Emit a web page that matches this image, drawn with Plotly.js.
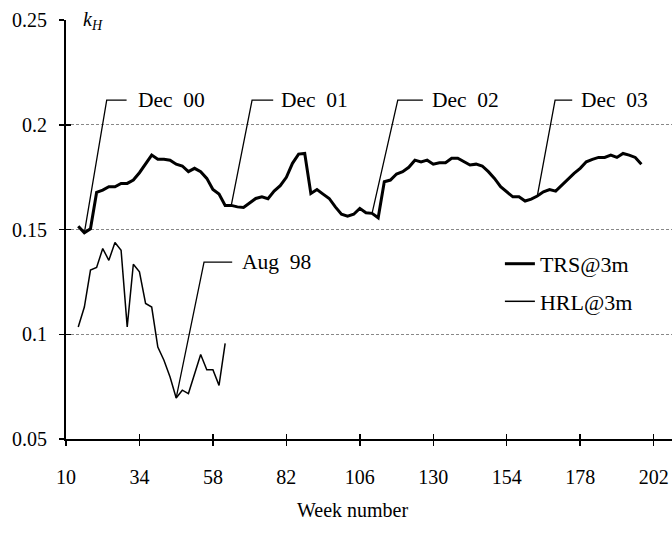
<!DOCTYPE html>
<html>
<head>
<meta charset="utf-8">
<script src="https://cdn.plot.ly/plotly-3.0.1.min.js"></script>
<style>html,body{margin:0;padding:0;background:#fff}#chart{width:672px;height:544px}</style>
</head>
<body>
<div id="chart"></div>
<script>
// ---- data ----
const trsName = 'TRS@3m';
const hrlName = 'HRL@3m';
const trsWeeks = [14,16,18,20,22,24,26,28,30,32,34,36,38,40,42,44,46,48,50,52,54,56,58,60,62,64,66,68,70,72,74,76,78,80,82,84,86,88,90,92,94,96,98,100,102,104,106,108,110,112,114,116,118,120,122,124,126,128,130,132,134,136,138,140,142,144,146,148,150,152,154,156,158,160,162,164,166,168,170,172,174,176,178,180,182,184,186,188,190,192,194,196,198];
const trsValues = [0.1516,0.1484,0.1503,0.1677,0.1688,0.1704,0.1704,0.1720,0.1720,0.1736,0.1771,0.1812,0.1855,0.1835,0.1835,0.1831,0.1812,0.1803,0.1776,0.1792,0.1776,0.1744,0.1691,0.1669,0.1615,0.1615,0.1608,0.1605,0.1627,0.1648,0.1656,0.1647,0.1683,0.1709,0.1749,0.1816,0.1860,0.1863,0.1672,0.1691,0.1669,0.1648,0.1608,0.1573,0.1564,0.1573,0.1601,0.1580,0.1577,0.1556,0.1728,0.1736,0.1765,0.1776,0.1797,0.1831,0.1823,0.1831,0.1812,0.1819,0.1819,0.1840,0.1840,0.1823,0.1808,0.1812,0.1803,0.1776,0.1744,0.1704,0.1680,0.1656,0.1656,0.1636,0.1645,0.1660,0.1680,0.1691,0.1683,0.1712,0.1744,0.1768,0.1792,0.1823,0.1835,0.1844,0.1844,0.1855,0.1844,0.1863,0.1855,0.1844,0.1812];
const hrlWeeks = [14,16,18,20,22,24,26,28,30,32,34,36,38,40,42,44,46,48,50,52,54,56,58,60,62];
const hrlValues = [0.1035,0.1130,0.1306,0.1319,0.1409,0.1353,0.1438,0.1401,0.1035,0.1334,0.1298,0.1147,0.1130,0.0939,0.0876,0.0796,0.0696,0.0733,0.0717,0.0812,0.0903,0.0831,0.0831,0.0756,0.0956];
const xTicks = [10,34,58,82,106,130,154,178,202];
const yTicks = [0.05,0.1,0.15,0.2,0.25];
const calloutLabels = ['Dec\u00a0 00','Dec\u00a0 01','Dec\u00a0 02','Dec\u00a0 03','Aug\u00a0 98'];
const calloutSeries = ['TRS','TRS','TRS','TRS','HRL'];
const calloutIndex = [1,25,48,75,16];
const xTitle = 'Week number';
const yLabel = '<i>k</i><sub><i>H</i></sub>';

// ---- layout positions for callouts (not data) ----
const elbowX = [23.3,70.8,118.4,169.8,55.1];
const elbowY = [0.2118,0.2118,0.2118,0.2118,0.1344];
const segEndX = [29.8,77.7,126.6,175.4,64.3];
const textX = [33.0,79.7,128.9,177.7,66.8];

const FONT = "'Liberation Serif', 'Times New Roman', Times, serif";
const xRange = [10,208];
const yRange = [0.05,0.25];

const traces = [
  {x: trsWeeks, y: trsValues, name: trsName, type:'scatter', mode:'lines',
   line:{color:'#000', width:3}, legendgroup:'a'},
  {x: hrlWeeks, y: hrlValues, name: hrlName, type:'scatter', mode:'lines',
   line:{color:'#000', width:1.5}, legendgroup:'b'},
  {x: [], y: [], xaxis:'x2', yaxis:'y2', type:'scatter', mode:'lines', showlegend:false, hoverinfo:'skip'}
];

const shapes = [];
const annotations = [];
for (let i=0;i<calloutLabels.length;i++){
  const src = calloutSeries[i]==='TRS' ? [trsWeeks,trsValues] : [hrlWeeks,hrlValues];
  const tx = src[0][calloutIndex[i]], ty = src[1][calloutIndex[i]];
  shapes.push({type:'path', xref:'x', yref:'y',
    path:`M ${tx},${ty} L ${elbowX[i]},${elbowY[i]} L ${segEndX[i]},${elbowY[i]}`,
    line:{color:'#000', width:1.3}});
  annotations.push({x:textX[i], y:elbowY[i], xref:'x', yref:'y', text:calloutLabels[i],
    showarrow:false, xanchor:'left', yanchor:'middle', font:{family:FONT,size:21.5,color:'#000'}});
}
annotations.push({x:0.024, y:1, xref:'paper', yref:'paper', text:yLabel, showarrow:false,
  xanchor:'left', yanchor:'middle', bgcolor:'#fff', font:{family:FONT,size:20,color:'#000'}});
annotations.push({x:0.472, y:-0.17, xref:'paper', yref:'paper', text:xTitle, showarrow:false,
  xanchor:'center', yanchor:'middle', font:{family:FONT,size:20,color:'#000'}});

const layout = {
  width:672, height:544,
  margin:{l:66, r:0, t:20, b:105},
  paper_bgcolor:'#fff', plot_bgcolor:'#fff',
  font:{family:FONT, size:20, color:'#000'},
  showlegend:true,
  legend:{x:0.716, y:0.468, xanchor:'left', yanchor:'top', tracegroupgap:6,
          font:{family:FONT,size:22,color:'#000'}, bgcolor:'rgba(0,0,0,0)'},
  xaxis:{range:xRange, tickvals:xTicks, ticktext:xTicks.map(String), ticks:'outside', ticklen:5,
         tickwidth:1.5, tickcolor:'#000', showline:true, linecolor:'#000', linewidth:2,
         showgrid:false, zeroline:false, ticklabelstandoff:14, tickfont:{family:FONT,size:20}},
  yaxis:{range:yRange, tickvals:yTicks, ticks:'outside', ticklen:5, tickwidth:1.5, tickcolor:'#000',
         showline:true, linecolor:'#000', linewidth:2, showgrid:true, gridcolor:'#888',
         griddash:'3px,2px', gridwidth:1, zeroline:false, ticklabelstandoff:8,
         tickfont:{family:FONT,size:20}},
  xaxis2:{range:xRange, tickvals:xTicks, ticks:'inside', ticklen:5, tickwidth:1.5, tickcolor:'#000',
          overlaying:'x', anchor:'y', side:'bottom', showticklabels:false, showline:false,
          showgrid:false, zeroline:false},
  yaxis2:{range:yRange, tickvals:yTicks, ticks:'inside', ticklen:5, tickwidth:1.5, tickcolor:'#000',
          overlaying:'y', anchor:'x', side:'left', showticklabels:false, showline:false,
          showgrid:false, zeroline:false},
  shapes:shapes,
  annotations:annotations
};
Plotly.newPlot('chart', traces, layout, {staticPlot:true, displayModeBar:false});
</script>
</body>
</html>
